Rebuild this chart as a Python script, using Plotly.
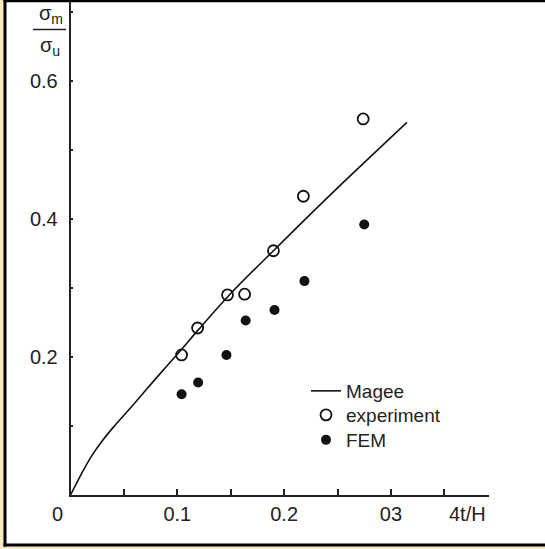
import plotly.graph_objects as go

# Magee curve
magee_x = [0.0, 0.01, 0.02, 0.03, 0.04, 0.06, 0.08, 0.10, 0.12, 0.15, 0.19, 0.25, 0.315]
magee_y = [0.0, 0.030, 0.057, 0.079, 0.098, 0.133, 0.169, 0.204, 0.240, 0.292, 0.354, 0.445, 0.540]

# experiment (open circles)
exp_x = [0.104, 0.119, 0.147, 0.163, 0.190, 0.218, 0.274]
exp_y = [0.203, 0.242, 0.290, 0.291, 0.354, 0.433, 0.545]

# FEM (filled circles)
fem_x = [0.104, 0.1195, 0.146, 0.164, 0.191, 0.219, 0.275]
fem_y = [0.146, 0.163, 0.203, 0.253, 0.268, 0.310, 0.392]

x_tickvals = [0.10, 0.20, 0.30]
x_ticktext = ["0.1", "0.2", "03"]
y_tickvals = [0.2, 0.4, 0.6]
y_ticktext = ["0.2", "0.4", "0.6"]

W, H = 545, 549
FONT = "Liberation Sans, Arial, sans-serif"
NARROW = "Liberation Sans Narrow, Arial Narrow, Liberation Sans, Arial, sans-serif"
INK = "#222"

def px(x):
    return x / W

def py(y):
    return 1 - y / H

fig = go.Figure()
fig.add_trace(go.Scatter(x=magee_x, y=magee_y, mode="lines", name="Magee", legend="legend",
                         line=dict(color="#111", width=1.6, shape="spline", smoothing=0.8)))
fig.add_trace(go.Scatter(x=exp_x, y=exp_y, mode="markers", name="experiment", legend="legend2",
                         marker=dict(symbol="circle-open", size=11, color="#111",
                                     line=dict(width=1.8, color="#111"))))
fig.add_trace(go.Scatter(x=fem_x, y=fem_y, mode="markers", name="FEM", legend="legend3",
                         marker=dict(symbol="circle", size=10, color="#111")))

def leg(ypix):
    return dict(x=px(306), y=py(ypix), xanchor="left", yanchor="middle",
                bgcolor="rgba(0,0,0,0)", font=dict(size=19, family=FONT, color=INK))

frame = dict(color="#000", width=3)

fig.update_layout(
    width=W, height=H, autosize=False,
    margin=dict(l=0, r=0, t=0, b=0, pad=0),
    paper_bgcolor="#FBE9C0",
    plot_bgcolor="rgba(0,0,0,0)",
    font=dict(family=FONT, size=19, color=INK),
    showlegend=True,
    legend=leg(391),
    legend2=leg(415),
    legend3=leg(440),
    xaxis=dict(domain=[px(70.5), px(489)], range=[0, 0.3918], automargin=False,
               showline=True, linecolor=INK, linewidth=1.6,
               showgrid=False, zeroline=False,
               tickmode="array", tickvals=x_tickvals, ticktext=x_ticktext,
               ticks="inside", ticklen=6, tickwidth=1.5, tickcolor=INK,
               minor=dict(dtick=0.05, tick0=0, ticks="inside", ticklen=6,
                          tickwidth=1.5, tickcolor=INK, showgrid=False),
               tickfont=dict(size=20, family=NARROW, color=INK),
               ticklabelstandoff=0),
    yaxis=dict(domain=[py(495), py(2)], range=[0, 0.7145], automargin=False,
               showline=True, linecolor=INK, linewidth=1.6,
               showgrid=False, zeroline=False,
               tickmode="array", tickvals=y_tickvals, ticktext=y_ticktext,
               ticks="inside", ticklen=3, tickwidth=1.5, tickcolor=INK,
               minor=dict(dtick=0.1, tick0=0, ticks="inside", ticklen=3,
                          tickwidth=1.5, tickcolor=INK, showgrid=False),
               tickfont=dict(size=20, family=NARROW, color=INK),
               ticklabelstandoff=7),
    shapes=[
        dict(type="rect", xref="paper", yref="paper",
             x0=px(5), x1=1.0, y0=py(545), y1=1.0,
             line=dict(width=0), fillcolor="white", layer="below"),
        dict(type="line", xref="paper", yref="paper",
             x0=px(5), x1=px(5), y0=py(546.5), y1=1.0, line=frame, layer="below"),
        dict(type="line", xref="paper", yref="paper",
             x0=px(3.5), x1=1.0, y0=py(545), y1=py(545), line=frame, layer="below"),
        dict(type="line", xref="paper", yref="paper",
             x0=px(3.5), x1=1.0, y0=py(0.8), y1=py(0.8), line=frame, layer="below"),
        dict(type="line", xref="paper", yref="paper",
             x0=px(33), x1=px(66), y0=py(29.5), y1=py(29.5),
             line=dict(color=INK, width=1.5)),
    ],
    annotations=[
        dict(text="σ<sub>m</sub>", xref="paper", yref="paper", x=px(51), y=py(29),
             xanchor="center", yanchor="bottom",
             showarrow=False, font=dict(size=20, family=FONT, color=INK)),
        dict(text="σ<sub>u</sub>", xref="paper", yref="paper", x=px(50), y=py(32),
             xanchor="center", yanchor="top",
             showarrow=False, font=dict(size=20, family=FONT, color=INK)),
        dict(text="0", xref="paper", yref="paper", x=px(57), y=py(514),
             xanchor="center", yanchor="middle",
             showarrow=False, font=dict(size=20, family=NARROW, color=INK)),
        dict(text="4t/H", xref="paper", yref="paper", x=px(467), y=py(514),
             xanchor="center", yanchor="middle",
             showarrow=False, font=dict(size=20, family=NARROW, color=INK)),
    ],
)

fig.write_html("out.html", config={"displayModeBar": False},
               post_script="document.body.style.margin='0';document.body.style.overflow='hidden';")
